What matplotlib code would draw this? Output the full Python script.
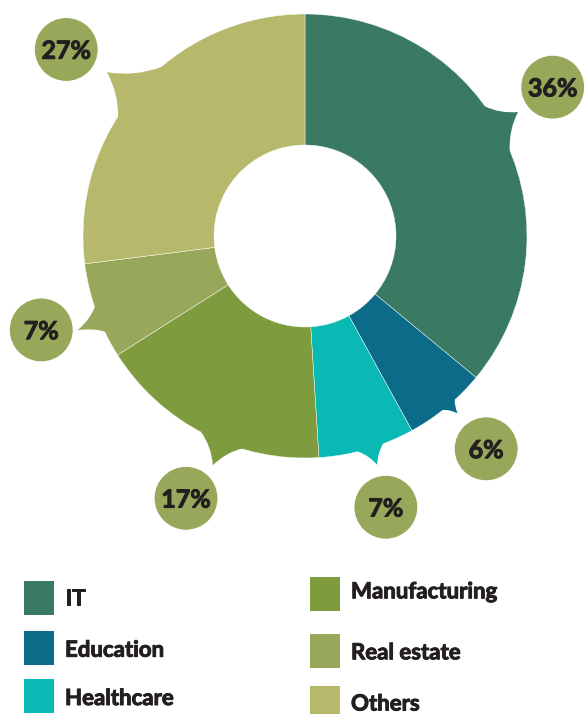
import numpy as np
import matplotlib
matplotlib.use('Agg')
import matplotlib.pyplot as plt
import matplotlib.patheffects as pe
from matplotlib.patches import Wedge, Circle, Rectangle, PathPatch
from matplotlib.path import Path

# ---------------- data ----------------
categories = ['IT', 'Education', 'Healthcare', 'Manufacturing', 'Real estate', 'Others']
shares = [36, 6, 7, 17, 7, 27]
pct_labels = ['36%', '6%', '7%', '17%', '7%', '27%']
colors = ['#3a7a63', '#0b6b89', '#0bb9b4', '#7e9b3d', '#97a85a', '#b6b96c']

# ---------------- layout / style ----------------
W, H = 588, 714
cx, cy = 305, H - 236
r_out, r_in = 222, 91
label_color = '#97a85a'
text_color = '#231f20'
label_shift = [5.8, 0.8, 0.4, 2.6, -0.2, 3.4]          # label angle offset vs slice middle
label_radius = [289, 279.5, 283, 288, 280, 303]
tip_shift = [5.0, 1.1, 1.3, 5.1, 2.7, 1.8]
tip_extra = [24.5, 12, 18, 25, 24, 35]
base_cw = [7.6, 2.4, 3.8, 6.1, 3.9, 10.1]
base_ccw = [5.6, 1.8, 3.2, 5.4, 3.1, 7.1]
circle_r = 32
bend = 0.3

FONT = ['Lato', 'DejaVu Sans']
stroke = [pe.withStroke(linewidth=0.7, foreground=text_color)]

fig = plt.figure(figsize=(W / 100, H / 100), dpi=100)
ax = fig.add_axes([0, 0, 1, 1])
ax.set_xlim(0, W)
ax.set_ylim(0, H)
ax.axis('off')


def polar(r, a):
    t = np.deg2rad(a)
    return np.array([cx + r * np.cos(t), cy + r * np.sin(t)])


total = float(sum(shares))
start = 90.0
for i, (v, col) in enumerate(zip(shares, colors)):
    span = 360.0 * v / total
    end = start - span
    mid = (start + end) / 2
    ax.add_patch(Wedge((cx, cy), r_out, end, start, width=r_out - r_in,
                       facecolor=col, edgecolor='white', linewidth=0.3, zorder=2))
    # tail (thorn-like with slightly concave sides)
    at = mid + tip_shift[i]
    a_lo = at - base_cw[i]
    a_hi = at + base_ccw[i]
    rt = r_out + tip_extra[i]
    A_in = polar(r_out - 12, a_lo)
    A = polar(r_out - 0.3, a_lo)
    T = polar(rt, at)
    B = polar(r_out - 0.3, a_hi)
    B_in = polar(r_out - 12, a_hi)
    P = polar(r_out, at)
    m1 = (A + T) / 2
    C1 = m1 + bend * (P - m1)
    m2 = (B + T) / 2
    C2 = m2 + bend * (P - m2)
    verts = [A_in, A, C1, T, C2, B, B_in, A_in]
    codes = [Path.MOVETO, Path.LINETO, Path.CURVE3, Path.CURVE3,
             Path.CURVE3, Path.CURVE3, Path.LINETO, Path.CLOSEPOLY]
    ax.add_patch(PathPatch(Path(verts, codes), facecolor=col, edgecolor='none', zorder=2))
    # label circle
    la = mid + label_shift[i]
    lx, ly = polar(label_radius[i], la)
    ax.add_patch(Circle((lx, ly), circle_r, facecolor=label_color,
                        edgecolor='white', linewidth=0.8, zorder=3))
    ax.text(lx, ly - 9.3, pct_labels[i], ha='center', va='baseline',
            fontsize=18, fontweight='bold', color=text_color, family=FONT, zorder=4,
            path_effects=stroke)
    start = end

# ---------------- legend ----------------
leg_sq_x = [24, 24, 24, 310, 310, 310]
leg_sq_top = [581, 631, 679, 577, 634, 686]
leg_txt_x = [65, 65, 65, 351, 351, 351]
leg_baseline = [605, 656.7, 705, 598.3, 659.3, 710.5]
for i, (name, col) in enumerate(zip(categories, colors)):
    ax.add_patch(Rectangle((leg_sq_x[i], H - leg_sq_top[i] - 34), 30, 34,
                           facecolor=col, edgecolor='none'))
    ax.text(leg_txt_x[i], H - leg_baseline[i], name, ha='left', va='baseline',
            fontsize=16, fontweight='bold', color=text_color, family=FONT,
            path_effects=stroke)

fig.savefig('out.png', dpi=100)
